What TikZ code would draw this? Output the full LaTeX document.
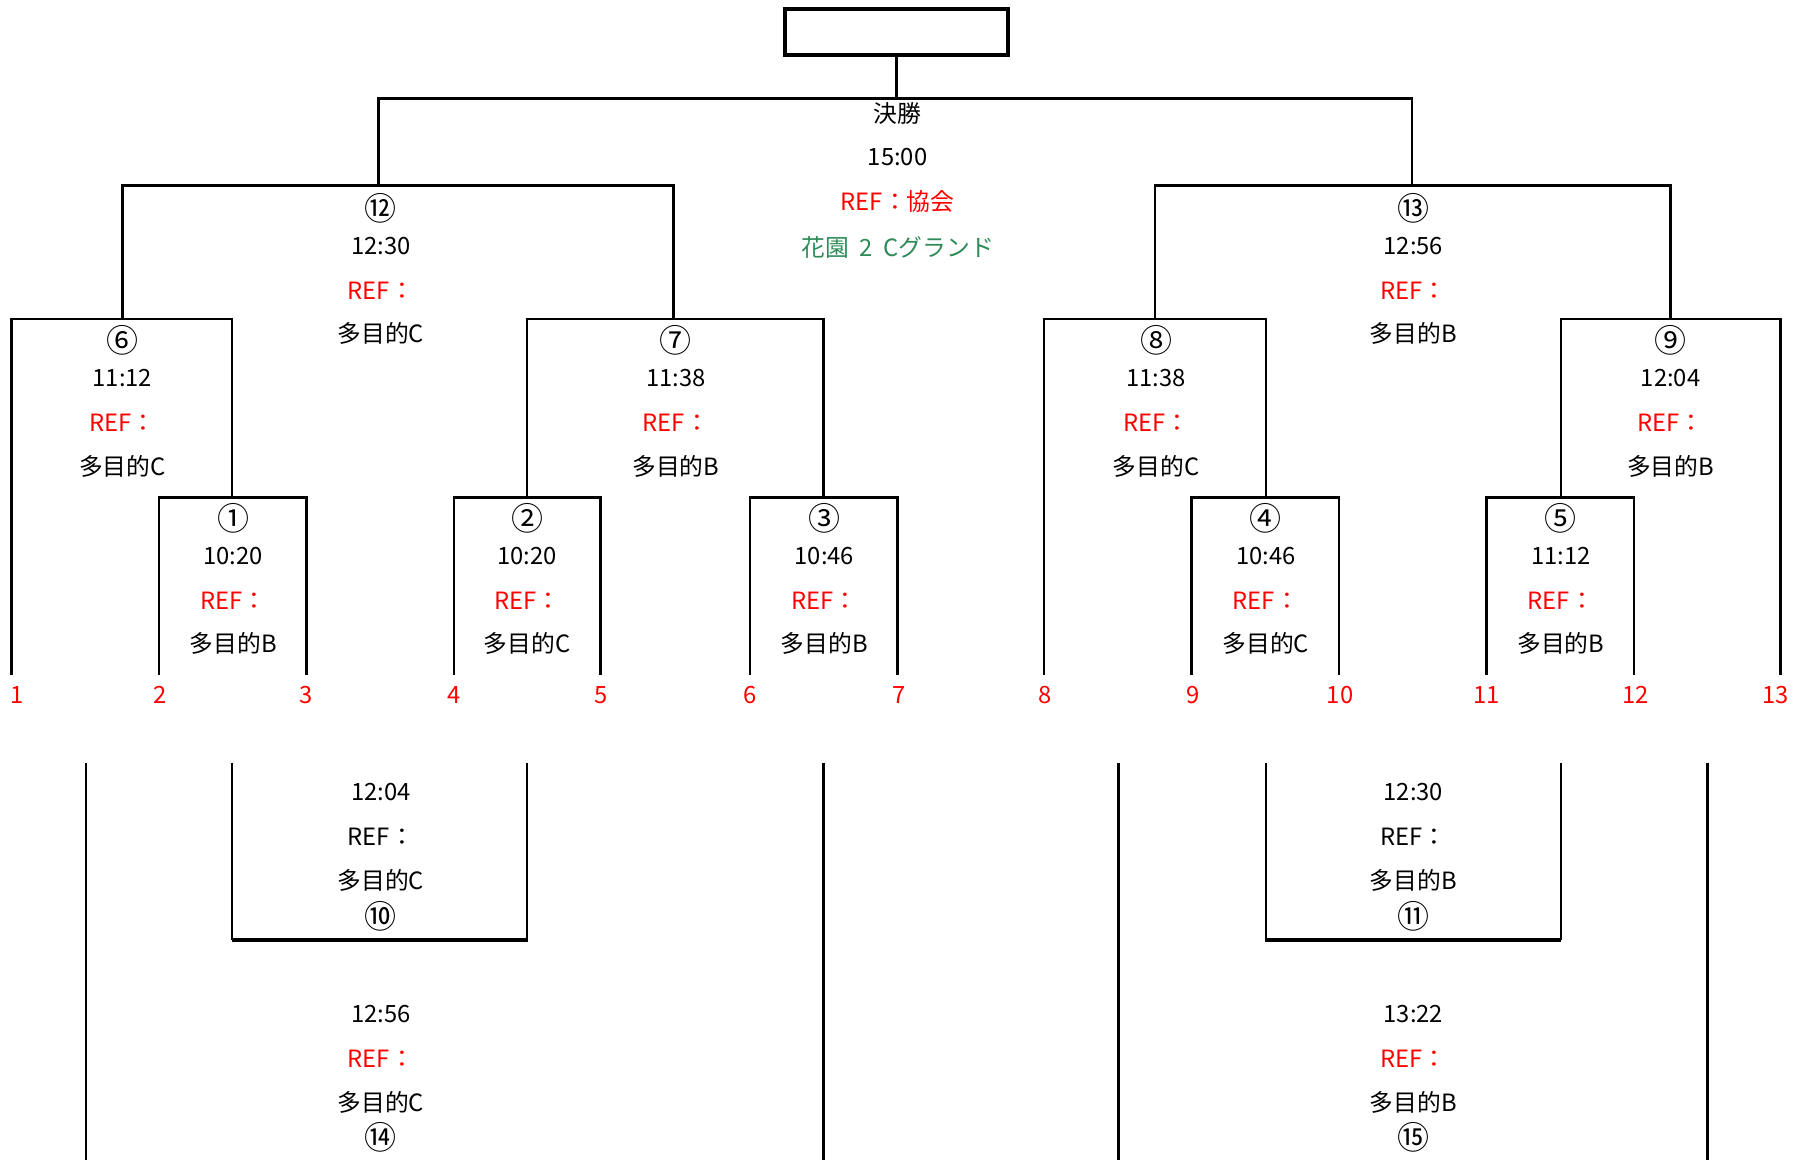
\documentclass[tikz,border=0pt]{standalone}
\usepackage{fontspec}
\setmainfont{Noto Sans CJK JP}
\definecolor{fieldgreen}{RGB}{46,139,87}
\newcommand\MatchInfo[7]{%
  \node[circnum] (#1n) at (#2,#3) {#4};
  \node[txt] (#1t) at (#2,#3+33) {#5};
  \node[txt,text=#6] (#1r) at (#2,#3+72) {REF：};
  \node[txt] (#1f) at (#2,#3+110) {#7};
}
\newcommand\LowerInfo[7]{%
  \node[txt] (#1t) at (#2,#3) {#4};
  \node[txt,text=#5] (#1r) at (#2,#3+39) {REF：};
  \node[txt] (#1f) at (#2,#3+77) {#6};
  \node[circnum] (#1n) at (#2,#3+108) {#7};
}
\begin{document}
\begin{tikzpicture}[x=0.5pt,y=-0.5pt,line width=1.1pt,
  txt/.style={font=\fontsize{10.4}{12}\selectfont,inner sep=0pt,anchor=center},
  circnum/.style={txt,font=\fontsize{14}{16}\selectfont},
  team/.style={txt,text=red},
  topbox/.style={draw,line width=1.9pt,minimum width=97.5pt,minimum height=20pt,inner sep=0pt,outer sep=0pt},
  boxbottom/.style={line width=1.6pt}]
\useasboundingbox (0,0) rectangle (1568,1014);

% final box
\node[topbox] (final) at (784,28) {};
\coordinate (fj) at (784,86);
\draw (final.south) -- (fj);
\draw (331,162) -- (331,86) -- (1235,86) -- (1235,162);

% semi finals
\draw (107,279) -- (107,162) -- (589,162) -- (589,279);
\draw (1010,279) -- (1010,162) -- (1461,162) -- (1461,279);

% quarter finals
\draw (10,590) -- (10,279) -- (203,279) -- (203,435);
\draw (461,435) -- (461,279) -- (720,279) -- (720,435);
\draw (913,590) -- (913,279) -- (1107,279) -- (1107,435);
\draw (1365,435) -- (1365,279) -- (1557,279) -- (1557,590);

% first round
\draw (139,590) -- (139,435) -- (268,435) -- (268,590);
\draw (397,590) -- (397,435) -- (525,435) -- (525,590);
\draw (656,590) -- (656,435) -- (785,435) -- (785,590);
\draw (1042,590) -- (1042,435) -- (1171,435) -- (1171,590);
\draw (1300,590) -- (1300,435) -- (1429,435) -- (1429,590);

% team numbers
\foreach \n/\x in {1/15,2/140,3/268,4/397,5/526,6/656,7/786,8/914,9/1043,10/1172,11/1300,12/1430,13/1553}
  \node[team] (team\n) at (\x,608) {\n};

% final texts
\node[txt] (finalname) at (785,99) {決勝};
\node[txt] (finaltime) at (785,137) {15:00};
\node[txt,text=red] (finalref) at (785,176) {REF：協会};
\node[txt,text=fieldgreen] (finalfield) at (785,216) {花園\hspace{0.45em}2\hspace{0.45em}Cグランド};

% match texts
\MatchInfo{m12}{333}{182}{⑫}{12:30}{red}{多目的C}
\MatchInfo{m13}{1236}{182}{⑬}{12:56}{red}{多目的B}
\MatchInfo{m6}{107}{298}{⑥}{11:12}{red}{多目的C}
\MatchInfo{m7}{591}{298}{⑦}{11:38}{red}{多目的B}
\MatchInfo{m8}{1011}{298}{⑧}{11:38}{red}{多目的C}
\MatchInfo{m9}{1461}{298}{⑨}{12:04}{red}{多目的B}
\MatchInfo{m1}{204}{453}{①}{10:20}{red}{多目的B}
\MatchInfo{m2}{461}{453}{②}{10:20}{red}{多目的C}
\MatchInfo{m3}{721}{453}{③}{10:46}{red}{多目的B}
\MatchInfo{m4}{1107}{453}{④}{10:46}{red}{多目的C}
\MatchInfo{m5}{1365}{453}{⑤}{11:12}{red}{多目的B}

% lower part lines
\draw (75,667) -- (75,1014);
\draw (720,667) -- (720,1014);
\draw (978,667) -- (978,1014);
\draw (1493,667) -- (1493,1014);
\draw (203,667) -- (203,822);
\draw (461,667) -- (461,822);
\draw[boxbottom] (202.5,822) -- (461.5,822);
\draw (1107,667) -- (1107,822);
\draw (1365,667) -- (1365,822);
\draw[boxbottom] (1106.5,822) -- (1365.5,822);

% lower texts
\LowerInfo{m10}{333}{693}{12:04}{black}{多目的C}{⑩}
\LowerInfo{m11}{1236}{693}{12:30}{black}{多目的B}{⑪}
\LowerInfo{m14}{333}{887}{12:56}{red}{多目的C}{⑭}
\LowerInfo{m15}{1236}{887}{13:22}{red}{多目的B}{⑮}
\end{tikzpicture}
\end{document}
